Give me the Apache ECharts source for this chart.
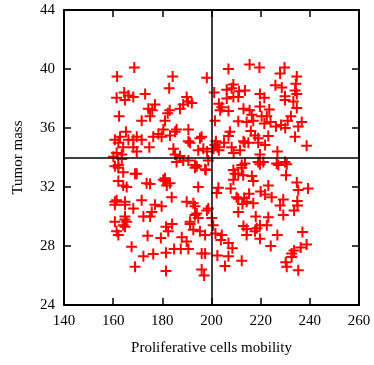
<!DOCTYPE html>
<html>
<head>
<meta charset="utf-8">
<script src="https://cdn.jsdelivr.net/npm/echarts@6/dist/echarts.min.js"></script>
<style>
  html, body { margin: 0; padding: 0; background: #fff; }
  #chart { width: 374px; height: 365px; }
</style>
</head>
<body>
<div id="chart"></div>
<script>
// Axis ranges and tick steps
const xMin = 140, xMax = 260, xStep = 20;
const yMin = 24, yMax = 44, yStep = 4;

// Reference lines splitting the plot into quadrants
const xSplit = 200;
const ySplit = 34;

// Observations: [proliferative cells mobility, tumor mass]
const upperLeft = [
  [168.6,40.1],[161.6,39.5],[184.2,39.5],[182.8,38.7],[161.4,38.05],[164.5,38.4],[166.2,38.2],
  [164.8,37.9],[168.2,38.1],[173,38.3],[162.4,36.8],[177,37.6],[174.3,37.3],[175.9,37.2],
  [171.6,36.5],[175,36.8],[182.2,37.0],[183,37.2],[181.1,36.5],[189.9,38.1],[188.5,37.6],
  [187.2,37.3],[192,37.7],[190.5,37.8],[180.4,35.9],[185.8,35.9],[190.6,35.9],[183.1,35.5],
  [176.3,35.4],[179.7,35.4],[178.4,35.6],[195.3,35.3],[196,35.4],[190.6,35.1],[191.3,35.0],
  [194.6,34.5],[160.7,35.2],[162.8,35.4],[165.2,35.75],[166.2,35.2],[168.2,35.2],[169.6,35.4],
  [171.6,35.2],[174.7,34.7],[168.2,34.7],[164.1,34.7],[169.6,34.4],[184.5,34.6],[161.4,34.3],
  [163.5,34.2],[185.2,34.2],[187.2,34.1],[196.7,34.6],[198.1,39.4],[185.2,35.75],[162.1,35.0]
];
const lowerLeft = [
  [160.1,34.05],[163.5,33.9],[162.1,33.5],[160.7,33.4],[162.1,33.3],[164.1,33.0],[169.6,32.9],
  [168.9,32.9],[190.6,33.8],[188.5,33.8],[194,33.4],[193.3,33.5],[197.7,33.15],[198.7,33.8],
  [185.8,33.7],[197.4,33.2],[193.3,33.3],[162.1,32.4],[164.1,32.1],[165.5,32.0],[173.6,32.25],
  [175,32.2],[181.1,32.4],[180.4,32.5],[183.1,32.25],[181.8,32.1],[181.1,32.6],[194.6,32.0],
  [183.8,31.3],[160.7,31.0],[161.4,31.1],[164.8,31.0],[160.7,30.8],[164.8,30.8],[168.2,30.55],
  [171.6,31.1],[177,30.8],[179.7,30.7],[175.7,30.3],[172.3,30.0],[175,30.0],[189.9,31.0],
  [192.6,30.9],[193.3,30.7],[194,30.2],[194.6,29.9],[198.1,30.4],[198.7,30.55],[193.3,30.1],
  [160.7,29.65],[164.8,29.8],[164.8,30.0],[165.5,29.65],[164.1,29.4],[161.4,29.0],[162.1,28.75],
  [164.8,29.3],[184,29.5],[181.5,29.3],[182.4,29.0],[187.9,28.6],[189.9,28.3],[191.3,29.65],
  [191.3,29.5],[192.6,29.1],[195.3,29.0],[197.4,28.75],[174,28.7],[179.4,28.55],[167.5,27.95],
  [172.3,27.3],[176.3,27.45],[181.5,27.55],[184.8,27.8],[187.5,27.8],[190.6,27.8],[196,27.5],
  [197.4,27.5],[168.9,26.6],[181.5,26.3],[196,26.4],[197,26.0]
];
const upperRight = [
  [206.9,40.0],[215.5,40.3],[219.5,40.1],[229.7,40.1],[227.9,39.7],[234.7,39.5],[234.3,39.0],
  [226,38.9],[228.6,38.75],[213.6,38.55],[219.7,38.3],[221.5,38.05],[234,38.55],[234.7,38.3],
  [229.9,38.15],[229.9,37.9],[233.3,37.8],[234.7,37.35],[219.7,37.45],[223.5,37.25],[213,37.3],
  [215.5,37.2],[216.4,36.9],[220.4,36.8],[222.5,36.8],[214.3,36.4],[221.5,36.3],[224,36.4],
  [226.2,36.1],[228.3,36.2],[230,36.0],[231,36.5],[232.3,36.8],[236.7,36.4],[235.3,36.1],
  [217,36.5],[216,35.8],[217.7,35.5],[223.1,35.45],[219,35.3],[219,35.0],[234,35.4],
  [238.7,34.8],[213.5,35.0],[215,35.0],[221.8,34.85],[226.8,34.4],[219.7,34.2],[211.6,34.5],
  [209,34.3],[208.9,38.95],[208.2,38.7],[206.2,38.6],[211.2,38.5],[208.9,38.1],[206.2,38.0],
  [210.9,38.1],[201.1,38.4],[203,37.65],[204.2,37.4],[203.5,37.2],[206.9,37.15],[201.4,36.5],
  [210.9,36.45],[207.5,35.75],[206.9,35.45],[201.4,34.85],[200.8,34.6],[202.5,34.7],[201.8,35.1],
  [203,34.5],[205.1,35.0],[208.2,34.7],[213,35.1],[198.2,34.4]
];
const lowerRight = [
  [213.6,33.6],[219,33.7],[221.1,33.7],[226.5,33.6],[229.9,33.7],[212.3,33.5],[219.7,33.55],
  [227.2,33.5],[230.6,33.55],[208.9,33.15],[209.6,32.9],[212.3,33.3],[208.9,32.5],[210.9,32.9],
  [212.9,32.8],[216.4,32.75],[217,32.4],[230.3,32.8],[223.1,32.1],[234.7,32.3],[235.3,31.8],
  [239.3,31.9],[220,31.7],[221.8,31.5],[224.5,31.3],[215.3,31.55],[229.2,31.15],[227.9,30.75],
  [234.9,31.05],[235,30.75],[233.6,30.4],[217,30.9],[218,30.0],[223.1,29.95],[229.2,30.1],
  [222.5,29.4],[219.7,29.4],[218.4,29.2],[214.3,29.15],[213,29.35],[217.7,29.0],[226.8,28.75],
  [219.7,28.5],[237,28.95],[224.1,28.0],[238.7,28.1],[236.3,27.9],[233.6,27.7],[232.6,27.5],
  [232.6,27.25],[230.2,26.9],[230.6,26.6],[235.3,26.35],[212.3,27.0],[202.8,31.95],[207.8,31.9],
  [202.1,31.6],[210.2,31.3],[213.3,31.25],[210.9,31.2],[212.6,30.85],[210.9,30.3],[214.3,31.0],
  [200.1,29.9],[200.7,29.4],[201.6,28.85],[204.2,28.75],[203.8,28.4],[206.9,28.2],[208.5,27.85],
  [214.3,28.75],[202.4,27.35],[206.9,27.3],[205.5,26.65]
];

const points = upperLeft.concat(lowerLeft, upperRight, lowerRight);

const serif = 'Liberation Serif, Times New Roman, serif';
// Filled plus sign used as the point marker
const plusPath = 'path://M0,4.5 H11 V6.5 H0 Z M4.5,0 H6.5 V11 H4.5 Z';

const chart = echarts.init(document.getElementById('chart'), null, { renderer: 'canvas' });

const frameLine = { show: true, onZero: false, lineStyle: { color: '#000', width: 2 } };
const innerTick = { show: true, inside: true, length: 7, lineStyle: { color: '#000', width: 1.5 } };

chart.setOption({
  animation: false,
  backgroundColor: '#fff',
  grid: { left: 64, right: 15, top: 10, bottom: 60 },
  xAxis: [
    {
      type: 'value', min: xMin, max: xMax, interval: xStep, position: 'bottom',
      axisLine: frameLine, axisTick: innerTick, splitLine: { show: false },
      axisLabel: { color: '#000', fontFamily: serif, fontSize: 15, margin: 9 },
      name: 'Proliferative cells mobility', nameLocation: 'middle', nameGap: 36,
      nameTextStyle: { color: '#000', fontFamily: serif, fontSize: 15 }
    },
    {
      type: 'value', min: xMin, max: xMax, interval: xStep, position: 'top',
      axisLine: frameLine, axisTick: innerTick, splitLine: { show: false },
      axisLabel: { show: false }
    }
  ],
  yAxis: [
    {
      type: 'value', min: yMin, max: yMax, interval: yStep, position: 'left',
      axisLine: frameLine, axisTick: innerTick, splitLine: { show: false },
      axisLabel: { color: '#000', fontFamily: serif, fontSize: 15, margin: 9 },
      name: 'Tumor mass', nameLocation: 'middle', nameGap: 38,
      nameTextStyle: { color: '#000', fontFamily: serif, fontSize: 15 }
    },
    {
      type: 'value', min: yMin, max: yMax, interval: yStep, position: 'right',
      axisLine: frameLine, axisTick: innerTick, splitLine: { show: false },
      axisLabel: { show: false }
    }
  ],
  series: [
    {
      type: 'scatter',
      xAxisIndex: 0, yAxisIndex: 0,
      data: points,
      symbol: plusPath,
      symbolSize: 11,
      itemStyle: { color: '#ff0000', opacity: 1 },
      emphasis: { disabled: true },
      markLine: {
        silent: true,
        symbol: ['none', 'none'],
        label: { show: false },
        lineStyle: { color: '#000', width: 1.5, type: 'solid' },
        data: [{ xAxis: xSplit }, { yAxis: ySplit }]
      },
      z: 2
    }
  ]
});
</script>
</body>
</html>
